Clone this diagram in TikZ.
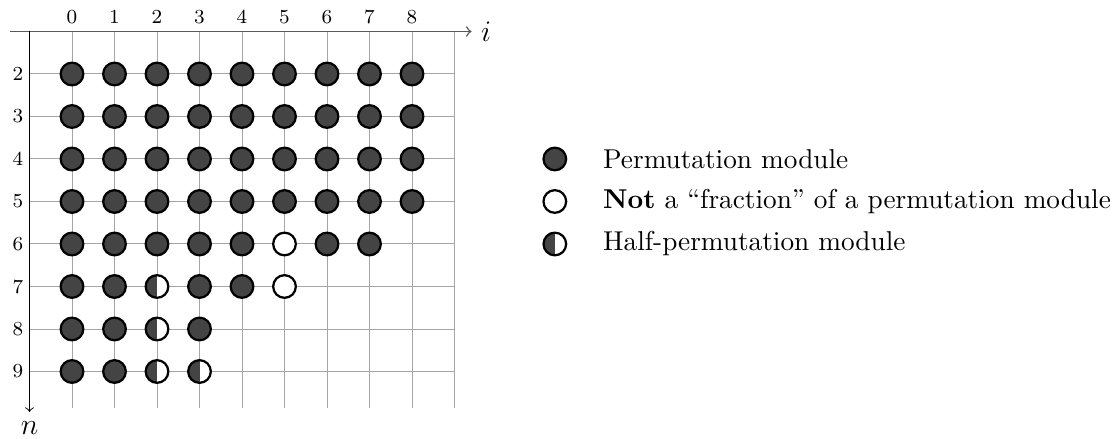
\documentclass[tikz,border=0pt,11pt]{standalone}
\usepackage{tikz}
\usetikzlibrary{positioning}
\definecolor{permGray}{RGB}{68, 68, 68}
\definecolor{gridGray}{RGB}{165, 165, 165}

\begin{document}
\begin{tikzpicture}[
    x=0.6cm, y=-0.6cm,
    gridline/.style={gridGray, thin},
    axis/.style={->, black},
    dotbase/.style={circle, draw=black, line width=0.9pt, minimum size=0.32cm, inner sep=0pt},
    perm/.style={dotbase, fill=permGray},
    notperm/.style={dotbase, fill=white},
    halfperm/.style={dotbase, fill=white, path picture={\fill[permGray] (path picture bounding box.south west) rectangle (path picture bounding box.north);}},
    idx/.style={font=\scriptsize},
    legendtext/.style={anchor=west, inner sep=0pt}
]
    \useasboundingbox (-1.694,0.259) rectangle (24.54,10.565);

    % Grid
    \foreach \c in {0,...,9}
        \draw[gridline] (\c,1) -- (\c,9.85);
    \foreach \n in {2,...,9}
        \draw[gridline] (-1,\n) -- (9,\n);

    % Axes
    \coordinate (iStart) at (-1.46,1);
    \coordinate (iEnd) at (9.4,1);
    \coordinate (nStart) at (-1,1);
    \coordinate (nEnd) at (-1,9.95);
    \draw[axis, black!65, semithick] (iStart) -- (iEnd);
    \draw[axis] (nStart) -- (nEnd);
    \node[right=0pt of iEnd, font=\large] (iLabel) {$i$};
    \node[below=0pt of nEnd, font=\large] (nLabel) {$n$};

    % Index labels
    \foreach \c in {0,...,8}
        \node[idx] (col\c) at (\c,0.66) {\c};
    \foreach \n in {2,...,9}
        \node[idx] (row\n) at (-1.27,\n) {\n};

    % Rows 2 to 5: permutation modules throughout
    \foreach \n in {2,...,5}
        \foreach \c in {0,...,8}
            \node[perm] (d\c-\n) at (\c,\n) {};

    % Row 6
    \foreach \c in {0,...,4,6,7}
        \node[perm] (d\c-6) at (\c,6) {};
    \node[notperm] (d5-6) at (5,6) {};

    % Row 7
    \foreach \c in {0,1,3,4}
        \node[perm] (d\c-7) at (\c,7) {};
    \node[halfperm] (d2-7) at (2,7) {};
    \node[notperm] (d5-7) at (5,7) {};

    % Row 8
    \foreach \c in {0,1,3}
        \node[perm] (d\c-8) at (\c,8) {};
    \node[halfperm] (d2-8) at (2,8) {};

    % Row 9
    \foreach \c in {0,1}
        \node[perm] (d\c-9) at (\c,9) {};
    \foreach \c in {2,3}
        \node[halfperm] (d\c-9) at (\c,9) {};

    % Legend
    \node[perm] (keyPerm) at (11.36,4) {};
    \node[notperm] (keyNot) at (11.36,5) {};
    \node[halfperm] (keyHalf) at (11.36,6) {};
    \node[legendtext, right=0.5cm of keyPerm] (txtPerm) {Permutation module};
    \node[legendtext, right=0.5cm of keyNot] (txtNot) {\textbf{Not} a ``fraction'' of a permutation module};
    \node[legendtext, right=0.5cm of keyHalf] (txtHalf) {Half-permutation module};
\end{tikzpicture}
\end{document}
